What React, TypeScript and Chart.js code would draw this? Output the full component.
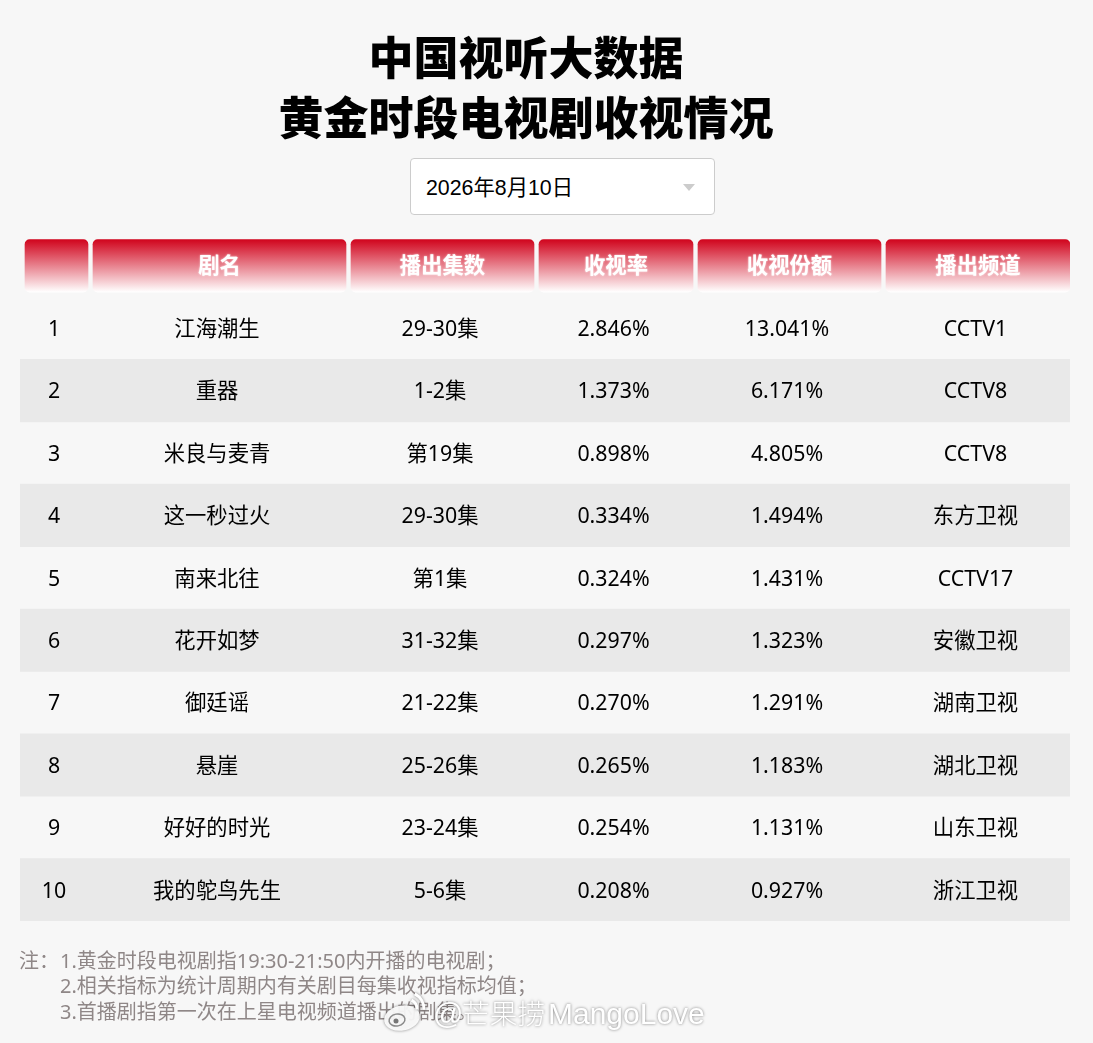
import { useEffect, useRef } from "react";
import { Chart, registerables } from "chart.js";

Chart.register(...registerables);

const titleLines = ["中国视听大数据", "黄金时段电视剧收视情况"];
const headers = ["", "剧名", "播出集数", "收视率", "收视份额", "播出频道"];
const ranks = [1, 2, 3, 4, 5, 6, 7, 8, 9, 10];
const dramas = ["江海潮生", "重器", "米良与麦青", "这一秒过火", "南来北往", "花开如梦", "御廷谣", "悬崖", "好好的时光", "我的鸵鸟先生"];
const episodes = ["29-30集", "1-2集", "第19集", "29-30集", "第1集", "31-32集", "21-22集", "25-26集", "23-24集", "5-6集"];
const ratings = [2.846, 1.373, 0.898, 0.334, 0.324, 0.297, 0.27, 0.265, 0.254, 0.208];
const shares = [13.041, 6.171, 4.805, 1.494, 1.431, 1.323, 1.291, 1.183, 1.131, 0.927];
const channels = ["CCTV1", "CCTV8", "CCTV8", "东方卫视", "CCTV17", "安徽卫视", "湖南卫视", "湖北卫视", "山东卫视", "浙江卫视"];
const notes = ["1.黄金时段电视剧指19:30-21:50内开播的电视剧；", "2.相关指标为统计周期内有关剧目每集收视指标均值；", "3.首播剧指第一次在上星电视频道播出的剧集。"];

// column edges on the x scale, the first row of the y scale is the header
const columnEdges = [0, 68, 326, 514, 673, 861, 1050];
const rowLabels = ["header", ...ranks.map(String)];

const FONT = "'Noto Sans', 'Noto Sans CJK SC', sans-serif";
const LATIN = "'Liberation Sans', sans-serif";

function drawWatermark(ctx: CanvasRenderingContext2D) {
  ctx.save();
  ctx.shadowColor = "rgba(0,0,0,0.5)";
  ctx.shadowBlur = 3;
  ctx.fillStyle = "rgba(255,255,255,0.92)";
  ctx.strokeStyle = "#ffffff";

  // weibo logo
  ctx.beginPath();
  ctx.ellipse(402, 1018, 18, 12.5, -0.2, 0, Math.PI * 2);
  ctx.fill();
  ctx.lineWidth = 3;
  ctx.beginPath();
  ctx.arc(407, 1009, 17, -1.1, 0.05);
  ctx.stroke();
  ctx.beginPath();
  ctx.arc(407, 1009, 10, -1.1, 0.05);
  ctx.stroke();
  ctx.shadowBlur = 0;
  ctx.strokeStyle = "#8a8a8a";
  ctx.lineWidth = 1.5;
  ctx.beginPath();
  ctx.ellipse(397, 1020, 8, 6, -0.2, 0, Math.PI * 2);
  ctx.stroke();
  ctx.fillStyle = "#777777";
  ctx.beginPath();
  ctx.arc(396, 1021, 2.5, 0, Math.PI * 2);
  ctx.fill();

  ctx.shadowBlur = 3;
  ctx.fillStyle = "#ffffff";
  ctx.textAlign = "left";
  ctx.textBaseline = "alphabetic";
  ctx.font = `400 30px ${LATIN}`;
  ctx.fillText("@", 433, 1024);
  ctx.fillText("MangoLove", 548, 1024);
  ctx.font = `300 27.7px 'Noto Sans CJK SC', sans-serif`;
  ctx.fillText("芒果捞", 462, 1024);
  ctx.restore();
}

const tablePlugin = {
  id: "tableText",
  afterDatasetsDraw(chart: Chart) {
    const { ctx, scales } = chart;
    const x = scales.x;
    const y = scales.y;
    ctx.save();
    ctx.textAlign = "center";
    ctx.textBaseline = "middle";

    // title sits over the table centre, not the canvas centre
    ctx.fillStyle = "#000000";
    ctx.font = `900 45px ${FONT}`;
    titleLines.forEach((line, i) => ctx.fillText(line, 526, 62 + i * 60));

    ctx.save();
    ctx.fillStyle = "#ffffff";
    ctx.shadowColor = "rgba(255,255,255,0.8)";
    ctx.shadowBlur = 2;
    ctx.font = `700 21.33px ${FONT}`;
    headers.forEach((h, c) => {
      const cx = x.getPixelForValue((columnEdges[c] + 5 + columnEdges[c + 1]) / 2);
      ctx.fillText(h, cx, y.getPixelForValue(0) + 1);
    });
    ctx.restore();

    ctx.fillStyle = "#000000";
    ctx.font = `400 21.33px ${FONT}`;
    ranks.forEach((rank, r) => {
      const cells = [String(rank), dramas[r], episodes[r], ratings[r].toFixed(3) + "%", shares[r].toFixed(3) + "%", channels[r]];
      cells.forEach((text, c) => {
        const cx = x.getPixelForValue((columnEdges[c] + columnEdges[c + 1]) / 2);
        ctx.fillText(text, cx, y.getPixelForValue(r + 1) + 1.8);
      });
    });

    // footnotes
    ctx.textAlign = "left";
    ctx.fillStyle = "#8f8787";
    ctx.font = `400 20px ${FONT}`;
    ctx.fillText("注：", 19, 962);
    notes.forEach((n, i) => ctx.fillText(n, 60, 962 + i * 25.5));
    ctx.restore();

    drawWatermark(ctx);
  },
};

export default function App() {
  const canvasRef = useRef<HTMLCanvasElement>(null);

  useEffect(() => {
    if (canvasRef.current === null) return;
    const headerFill = (context: any) => {
      const { ctx, chartArea } = context.chart;
      if (!chartArea) return "#d0021b";
      const g = ctx.createLinearGradient(0, 239, 0, 292);
      g.addColorStop(0, "#d0021b");
      g.addColorStop(1, "#ffffff");
      return g;
    };
    const chart = new Chart(canvasRef.current, {
      type: "bar",
      data: {
        labels: rowLabels,
        datasets: [
          {
            label: "stripes",
            data: [null, ...ranks.map((rank) => (rank % 2 === 0 ? [columnEdges[0], columnEdges[6]] : null))] as any,
            backgroundColor: "#e9e9e9",
            grouped: false,
          },
          ...headers.map((h, c) => ({
            label: h || "rank",
            data: [[columnEdges[c] + 5, columnEdges[c + 1]], ...ranks.map(() => null)] as any,
            backgroundColor: headerFill,
            barThickness: 52.5,
            borderRadius: 5,
            borderSkipped: false,
            grouped: false,
          })),
        ],
      },
      options: {
        indexAxis: "y",
        animation: false,
        responsive: false,
        events: [],
        barPercentage: 1,
        categoryPercentage: 1,
        layout: { padding: { left: 20, right: 23, top: 234.6, bottom: 122 } },
        scales: {
          x: { type: "linear", display: false, min: columnEdges[0], max: columnEdges[6] },
          y: { type: "category", display: false },
        },
        plugins: {
          legend: { display: false },
          tooltip: { enabled: false },
          title: { display: false },
        },
      } as any,
      plugins: [tablePlugin],
    });
    return () => chart.destroy();
  }, []);

  return (
    <div style={{ position: "absolute", left: 0, top: 0, width: 1093, height: 1043, background: "#f7f7f7", overflow: "hidden" }}>
      <canvas ref={canvasRef} width={1093} height={1043} style={{ display: "block" }} />
      <div
        style={{
          position: "absolute",
          left: 410,
          top: 158,
          width: 288,
          height: 55,
          background: "#ffffff",
          border: "1px solid #cccccc",
          borderRadius: 4,
          font: "21.33px 'Liberation Sans', 'Noto Sans CJK SC', sans-serif",
          lineHeight: "58px",
          paddingLeft: 15,
        }}
      >
        2026年8月10日
        <div
          style={{
            position: "absolute",
            left: 272,
            top: 25,
            width: 0,
            height: 0,
            borderLeft: "6px solid transparent",
            borderRight: "6px solid transparent",
            borderTop: "7px solid #cccccc",
          }}
        />
      </div>
    </div>
  );
}
